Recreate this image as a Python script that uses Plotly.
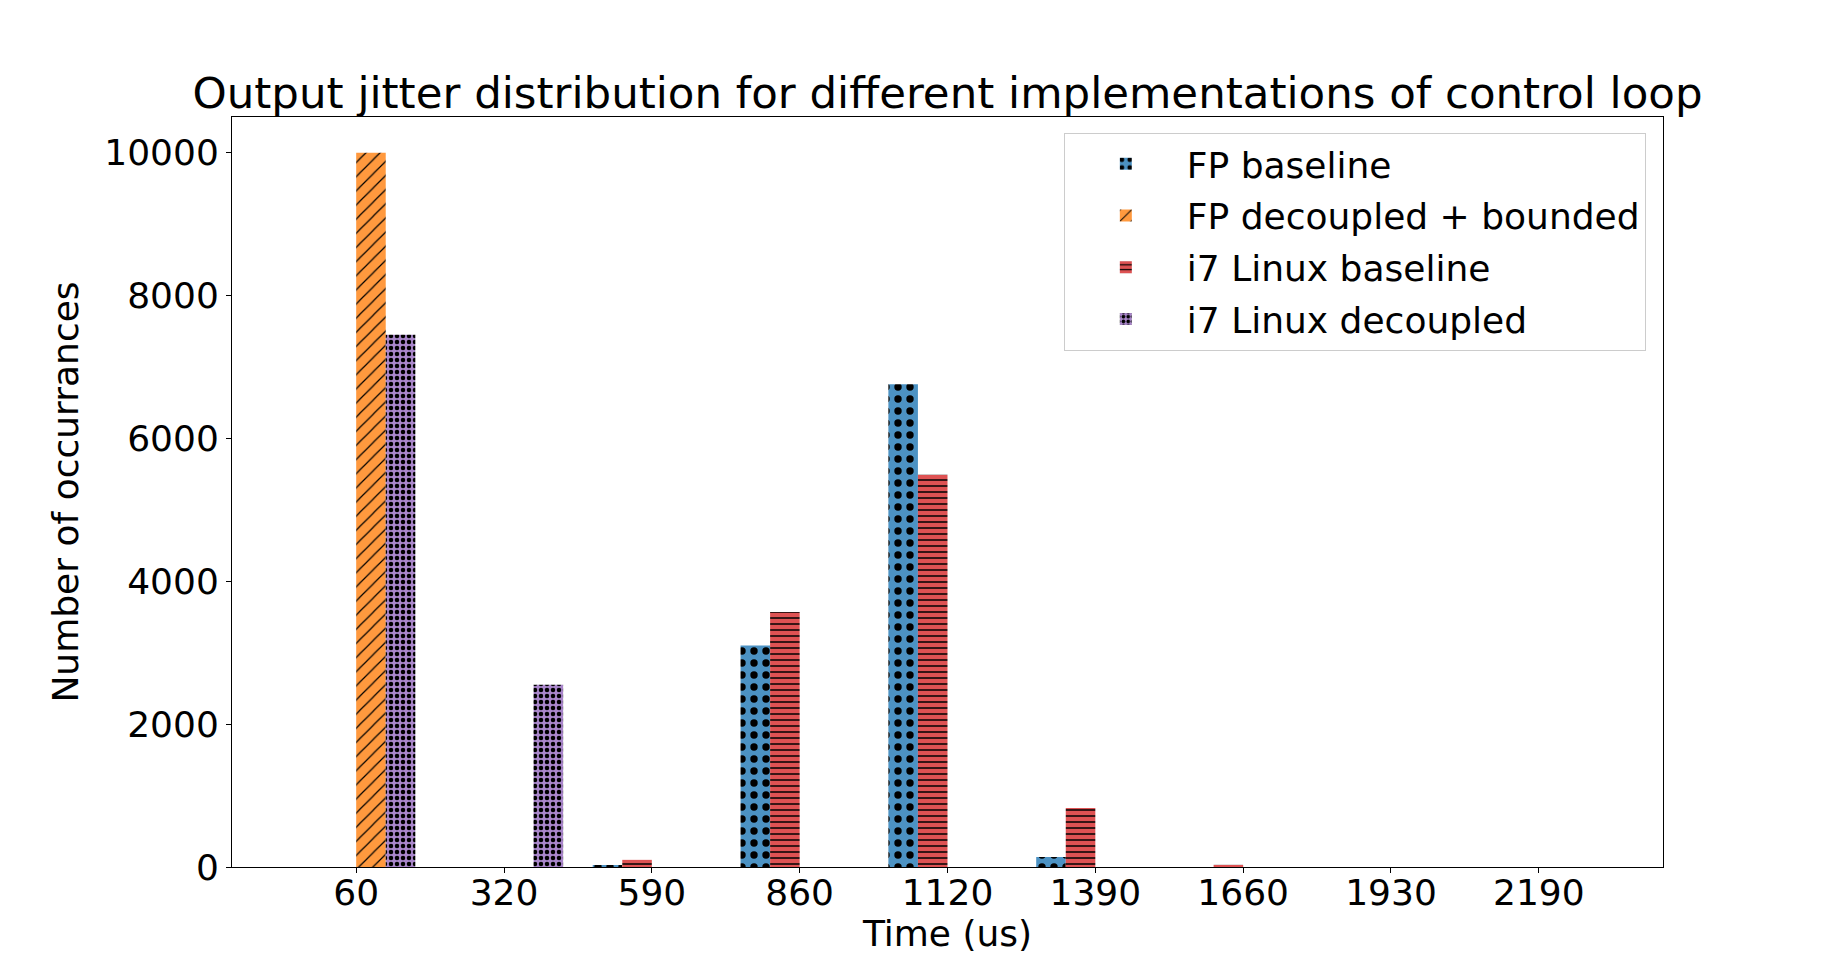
import plotly.graph_objects as go

categories = ["60", "320", "590", "860", "1120", "1390", "1660", "1930", "2190"]
fp_baseline = [0, 0, 20, 3100, 6760, 140, 0, 0, 0]
fp_decoupled_bounded = [10000, 0, 0, 0, 0, 0, 0, 0, 0]
i7_baseline = [0, 0, 100, 3570, 5490, 826, 30, 0, 0]
i7_decoupled = [7450, 2550, 0, 0, 0, 0, 0, 0, 0]

idx = list(range(len(categories)))
W = 0.2

series = [
    ("FP baseline", fp_baseline, "#4c92c3", -2 * W, dict(shape=".", size=12, solidity=0.3)),
    ("FP decoupled + bounded", fp_decoupled_bounded, "#ff993e", 0.0, dict(shape="/", size=10, solidity=0.12)),
    ("i7 Linux baseline", i7_baseline, "#de5253", -W, dict(shape="-", size=6, solidity=0.25)),
    ("i7 Linux decoupled", i7_decoupled, "#a986ca", W, dict(shape=".", size=6, solidity=0.45)),
]

fig = go.Figure()
for i, (name, vals, color, off, pat) in enumerate(series):
    fig.add_trace(go.Bar(
        x=idx, y=vals, name=name, width=W, offset=off,
        legendgroup=f"g{i}",
        marker=dict(color=color, line=dict(width=0),
                    pattern=dict(fgcolor="black", fgopacity=1, bgcolor=color, **pat)),
    ))

fig.update_layout(
    width=1848, height=974,
    barmode="overlay",
    paper_bgcolor="white", plot_bgcolor="white",
    font=dict(family="DejaVu Sans", size=36, color="black"),
    margin=dict(l=224, r=193, t=109, b=115),
    title=dict(text="Output jitter distribution for different implementations of control loop",
               x=0.5, xanchor="center", xref="paper",
               y=1, yref="paper", yanchor="bottom", pad=dict(b=9),
               font=dict(size=43.5)),
    legend=dict(x=0.988, xanchor="right", y=0.979, yanchor="top",
                bordercolor="#cccccc", borderwidth=1, bgcolor="rgba(255,255,255,0.8)",
                font=dict(size=36), tracegroupgap=2, itemwidth=112),
    showlegend=True,
)
fig.update_xaxes(
    range=[-0.84, 8.84], tickmode="array", tickvals=idx, ticktext=categories,
    showgrid=False, zeroline=False, showline=True, linecolor="black", linewidth=1,
    mirror=True, ticks="outside", ticklen=5, tickcolor="black",
    tickfont=dict(size=36), ticklabelstandoff=-11,
    title=dict(text="Time (us)", standoff=2, font=dict(size=36)),
)
fig.update_yaxes(
    range=[0, 10500], tickvals=[0, 2000, 4000, 6000, 8000, 10000], tickformat="d",
    showgrid=False, zeroline=False, showline=True, linecolor="black", linewidth=1,
    mirror=True, ticks="outside", ticklen=5, tickcolor="black",
    tickfont=dict(size=36),
    title=dict(text="Number of occurrances", standoff=14, font=dict(size=36)),
)

fig.write_html("out.html")
